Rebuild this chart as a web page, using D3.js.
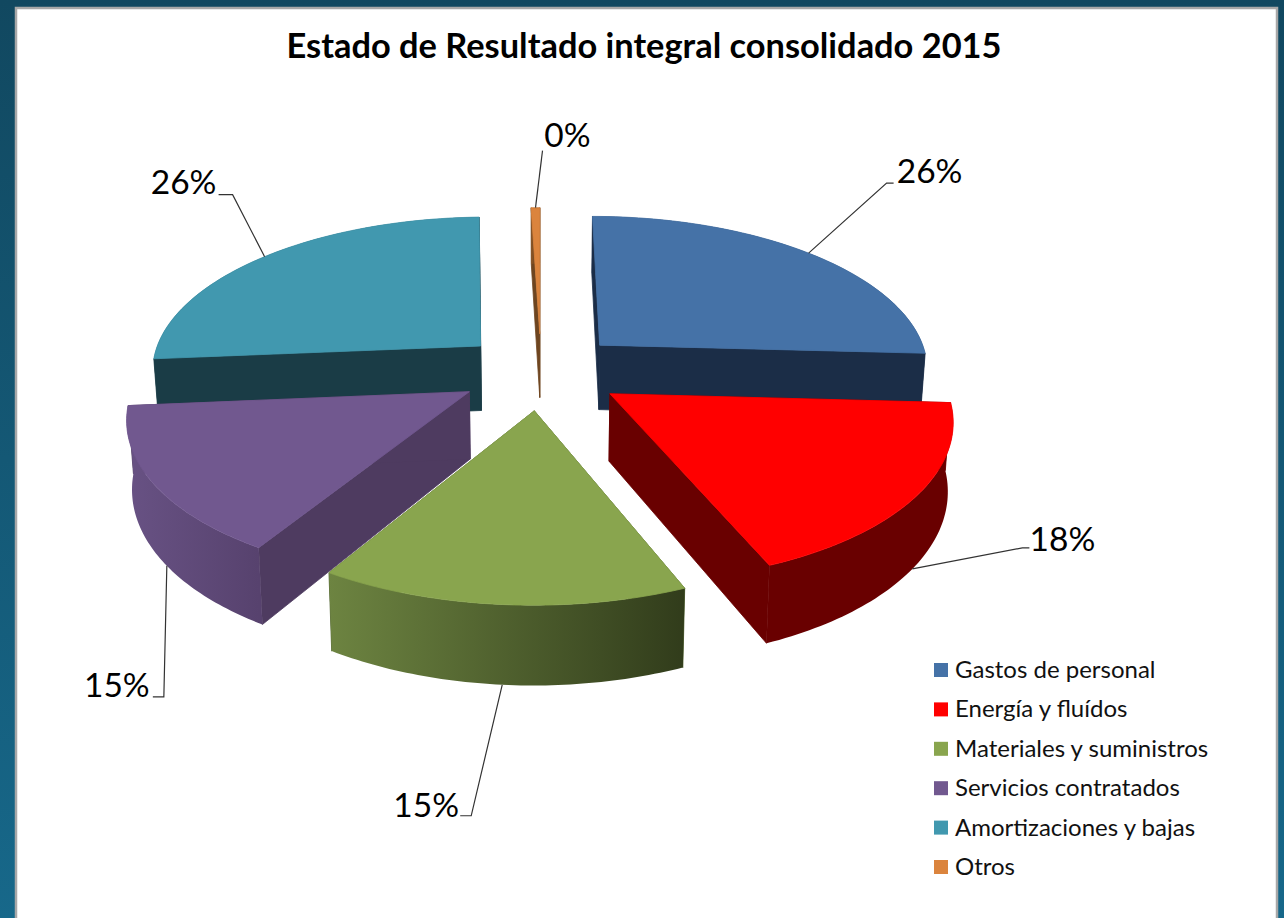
<!DOCTYPE html>
<html>
<head>
<meta charset="utf-8">
<script src="https://cdnjs.cloudflare.com/ajax/libs/d3/7.8.5/d3.min.js"></script>
<style>
  html, body { margin: 0; padding: 0; background: #124a63; }
  svg { display: block; }
  text { font-family: Lato, "Open Sans", sans-serif; fill: #000; }
</style>
</head>
<body>
<svg id="chart"></svg>
<script>
const categories = ["Gastos de personal", "Energía y fluídos", "Materiales y suministros", "Servicios contratados", "Amortizaciones y bajas", "Otros"];
const values = [26, 18, 15, 15, 26, 0.5];
const percentLabels = ["26%", "18%", "15%", "15%", "26%", "0%"];

const topColors = ["#4572a7", "#ff0000", "#89a54e", "#71588f", "#4198af", "#db843d"];
const rimFrom = ["#1b2d47", "#690000", "#6d8441", "#685284", "#1a3c46", "#8a5526"];
const rimTo = ["#1b2d47", "#690000", "#313c1b", "#57426e", "#1a3c46", "#5e3a18"];
const cutColors = ["#1b2d47", "#690000", "#4d5f2b", "#4e3b60", "#1a3c46", "#6e4520"];

const width = 1284;
const height = 918;

const explode = 0.25;   // how far slices are pulled out, in radii
const camera = 7;       // perspective distance, in radii
const depth = 66;       // thickness of the pie
const converge = 0.013; // vertical edges lean inward going down

// ground plane -> screen
const cx = 541;
const xScale = d3.scaleLinear().domain([-1, 1]).range([cx - 331, cx + 331]);
const yScale = d3.scaleLinear().domain([-1, 1]).range([371 - 154, 371 + 154]);

const svg = d3.select("#chart").attr("width", width).attr("height", height);
const defs = svg.append("defs");

const bg = defs.append("linearGradient").attr("id", "bg")
    .attr("x1", 0).attr("y1", 0).attr("x2", 0).attr("y2", 1);
bg.append("stop").attr("offset", 0).attr("stop-color", "#114860");
bg.append("stop").attr("offset", 1).attr("stop-color", "#17688a");

svg.append("rect").attr("width", width).attr("height", height).attr("fill", "url(#bg)");
svg.append("rect")
    .attr("x", 16).attr("y", 8)
    .attr("width", 1261).attr("height", 930)
    .attr("fill", "#fff")
    .attr("stroke", "#a8a8a8")
    .attr("stroke-width", 2.5);

svg.append("text")
    .attr("x", 644)
    .attr("y", 58)
    .attr("text-anchor", "middle")
    .style("font-size", "34.4px")
    .style("font-weight", "700")
    .text("Estado de Resultado integral consolidado 2015");

const pie = d3.pie().sort(null).value(d => d);
const slices = pie(values).map((d, i) => ({ ...d, i, mid: (d.startAngle + d.endAngle) / 2 }));

// point on a slice: r = 1 on the rim, r = 0 at its apex, lift = 0 on top, 1 at the bottom
const project = (slice, angle, r, lift) => {
    const X = r * Math.sin(angle) + explode * Math.sin(slice.mid);
    const Z = -r * Math.cos(angle) - explode * Math.cos(slice.mid);
    const s = camera / (camera - Z);
    const x = xScale(X * s);
    return [cx + (x - cx) * (1 - converge * lift), yScale(Z * s) + lift * depth * s];
};

const line = d3.line();
const rimAngles = d => d3.range(0, 61).map(k => d.startAngle + (d.endAngle - d.startAngle) * k / 60);

const drawSlice = d => {
    const g = svg.append("g").attr("class", "slice");
    const angles = rimAngles(d);
    const top = angles.map(a => project(d, a, 1, 0));
    const bottom = angles.map(a => project(d, a, 1, 1)).reverse();

    // cut faces first, the rim and the top cover whatever part of them is hidden
    [d.startAngle, d.endAngle].forEach(a => {
        const face = [project(d, a, 0, 0), project(d, a, 1, 0), project(d, a, 1, 1), project(d, a, 0, 1)];
        g.append("path").attr("d", line(face) + "Z")
            .attr("fill", cutColors[d.i])
            .attr("stroke", cutColors[d.i])
            .attr("stroke-width", 0.8);
    });

    const xs = top.map(p => p[0]);
    const grad = defs.append("linearGradient").attr("id", `rim${d.i}`)
        .attr("gradientUnits", "userSpaceOnUse")
        .attr("x1", d3.min(xs)).attr("y1", 0)
        .attr("x2", d3.max(xs)).attr("y2", 0);
    grad.append("stop").attr("offset", 0).attr("stop-color", rimFrom[d.i]);
    grad.append("stop").attr("offset", 1).attr("stop-color", rimTo[d.i]);

    g.append("path").attr("d", line(top.concat(bottom)) + "Z").attr("fill", `url(#rim${d.i})`);

    const face = [project(d, 0, 0, 0)].concat(top);
    g.append("path").attr("d", line(face) + "Z")
        .attr("fill", topColors[d.i])
        .attr("stroke", topColors[d.i])
        .attr("stroke-width", 0.8);
};

// back to front
[5, 4, 0, 3, 1, 2].forEach(i => drawSlice(slices[i]));

// label offsets from the leader anchor
const labelLayout = [
    { lift: 0, shift: 0, elbow: [78, -70], end: [85, -70], text: [121, -71] },
    { lift: 1, shift: 0, elbow: [110, -21], end: [117, -21], text: [150, -19] },
    { lift: 1, shift: 0, elbow: [-31, 131], end: [-42, 131], text: [-76, 131] },
    { lift: 1, shift: -0.06, elbow: [-3, 131], end: [-14, 131], text: [-50, 130] },
    { lift: 0, shift: 0, elbow: [-32, -62], end: [-46, -62], text: [-81, -64] },
    { lift: 0, shift: 0, elbow: [7, -57], end: [7, -57], text: [32, -62] }
];

slices.forEach(d => {
    const l = labelLayout[d.i];
    const [ax, ay] = project(d, d.mid + l.shift, 1, l.lift);
    const pts = [[ax, ay], [ax + l.elbow[0], ay + l.elbow[1]], [ax + l.end[0], ay + l.end[1]]];
    svg.append("path")
        .attr("d", line(pts))
        .attr("fill", "none")
        .attr("stroke", "#333")
        .attr("stroke-width", 1.2);
    svg.append("text")
        .attr("x", ax + l.text[0])
        .attr("y", ay + l.text[1] + 1)
        .attr("text-anchor", "middle")
        .style("font-size", "33.5px")
        .text(percentLabels[d.i]);
});

// legend
const legendY = d3.scalePoint().domain(categories).range([670, 867]);
const legend = svg.append("g").selectAll("g")
    .data(categories)
    .enter()
    .append("g")
    .attr("transform", d => `translate(934, ${legendY(d)})`);

legend.append("rect")
    .attr("y", -7)
    .attr("width", 14)
    .attr("height", 14)
    .attr("fill", (d, i) => topColors[i]);

legend.append("text")
    .attr("x", 21)
    .attr("y", 8)
    .style("font-size", "24px")
    .style("fill", "#111")
    .text(d => d);
</script>
</body>
</html>
